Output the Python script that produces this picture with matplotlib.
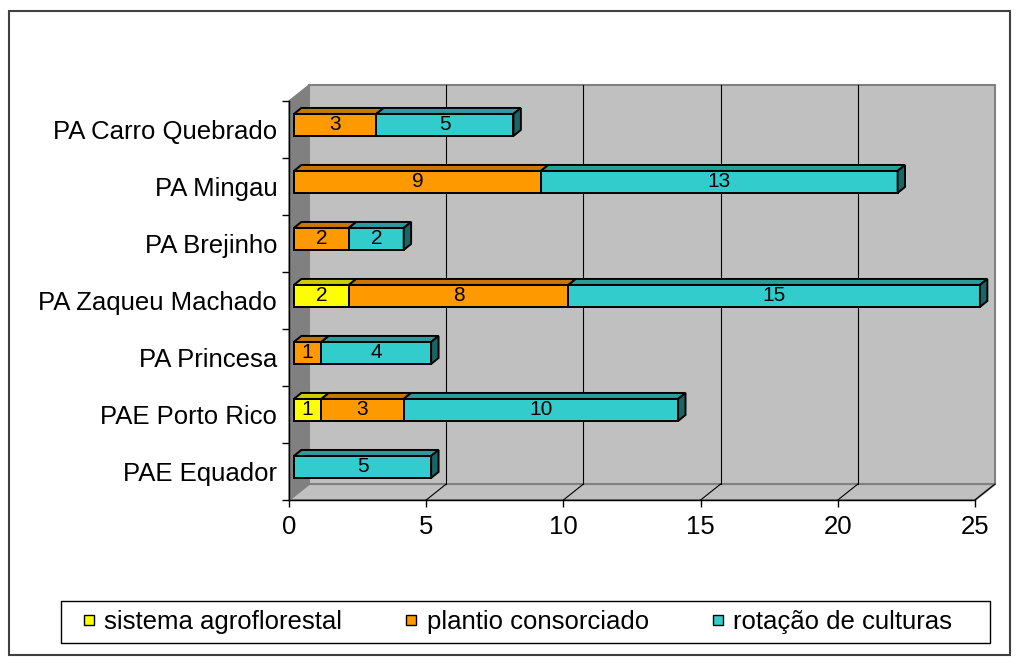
import numpy as np
import matplotlib.pyplot as plt
from matplotlib.patches import Polygon, Rectangle, Patch
from matplotlib.lines import Line2D

plt.rcParams['font.family'] = ['Liberation Sans', 'DejaVu Sans']

# assentamentos, de baixo para cima
assentamentos = ['PAE Equador', 'PAE Porto Rico', 'PA Princesa', 'PA Zaqueu Machado',
                 'PA Brejinho', 'PA Mingau', 'PA Carro Quebrado']
agroflorestal = [0, 1, 0, 2, 0, 0, 0]
consorciado = [0, 3, 1, 8, 2, 9, 3]
rotacao = [5, 10, 4, 15, 2, 13, 5]

series = ['sistema agroflorestal', 'plantio consorciado', 'rotação de culturas']
valores = [agroflorestal, consorciado, rotacao]
x_ticks = [0, 5, 10, 15, 20, 25]

cor_frente = ['#FFFF00', '#FF9900', '#33CCCC']
cor_topo = ['#CCCC00', '#C87800', '#2A9C9C']
cor_lado = ['#808000', '#8A5200', '#1A6666']

# profundidade das paredes e das barras (unidades de dados)
XMAX = 25
n = len(assentamentos)
pdx, pdy = 0.73, 0.28          # parede
bx0, by0 = 0.18, 0.08          # deslocamento da face frontal da barra
bdx, bdy = 0.27, 0.105         # profundidade da barra
bh = 0.386                     # altura da barra

fig = plt.figure(figsize=(10.21, 6.64), dpi=100)
ax = fig.add_axes([289 / 1021, 164 / 664, 686 / 1021, 399 / 664])
ax.set_xlim(0, XMAX)
ax.set_ylim(0, n)
ax.patch.set_visible(False)

# paredes: lateral, fundo e piso
ax.add_patch(Polygon([(0, 0), (0, n), (pdx, n + pdy), (pdx, pdy)], closed=True,
                     facecolor='#808080', edgecolor='#808080', lw=1, clip_on=False, zorder=0.5))
ax.add_patch(Polygon([(pdx, pdy), (pdx, n + pdy), (XMAX + pdx, n + pdy), (XMAX + pdx, pdy)],
                     closed=True, facecolor='#C0C0C0', edgecolor='#808080', lw=1.5,
                     clip_on=False, zorder=0.5))
ax.add_patch(Polygon([(0, 0), (XMAX, 0), (XMAX + pdx, pdy), (pdx, pdy)], closed=True,
                     facecolor='#C0C0C0', edgecolor='#808080', lw=1.5, clip_on=False, zorder=0.6))

# linhas de grade no fundo e no piso
for v in x_ticks[1:-1]:
    ax.add_line(Line2D([v + pdx, v + pdx], [pdy, n + pdy], color='black', lw=0.8,
                       clip_on=False, zorder=1))
for v in x_ticks[1:]:
    ax.add_line(Line2D([v, v + pdx], [0, pdy], color='black', lw=0.8,
                       clip_on=False, zorder=1))

# barras empilhadas em 3D
esquerda = np.zeros(n)
for k, vals in enumerate(valores):
    vals = np.array(vals, dtype=float)
    yc = np.arange(n) + 0.5 + by0
    mask = vals > 0
    barras = ax.barh(yc[mask], vals[mask], left=esquerda[mask] + bx0, height=bh,
                     color=cor_frente[k], edgecolor='black', lw=1.4, zorder=3)
    for b in barras:
        b.set_clip_on(False)
    for i in np.where(mask)[0]:
        x0 = esquerda[i] + bx0
        x1 = x0 + vals[i]
        yt = yc[i] + bh / 2
        ax.add_patch(Polygon([(x0, yt), (x1, yt), (x1 + bdx, yt + bdy), (x0 + bdx, yt + bdy)],
                             closed=True, facecolor=cor_topo[k], edgecolor='black',
                             lw=1.4, clip_on=False, zorder=3))
        ax.text((x0 + x1) / 2, yc[i], f'{int(vals[i])}', ha='center', va='center',
                fontsize=15, zorder=4)
    esquerda = esquerda + vals

# face lateral direita de cada barra (ultima serie visivel)
for i in range(n):
    ultima = max(k for k in range(len(valores)) if valores[k][i] > 0)
    x1 = esquerda[i] + bx0
    yc = i + 0.5 + by0
    yb, yt = yc - bh / 2, yc + bh / 2
    ax.add_patch(Polygon([(x1, yb), (x1, yt), (x1 + bdx, yt + bdy), (x1 + bdx, yb + bdy)],
                         closed=True, facecolor=cor_lado[ultima], edgecolor='black',
                         lw=1.4, clip_on=False, zorder=3))

# eixos
for s in ['top', 'right']:
    ax.spines[s].set_visible(False)
for s in ['left', 'bottom']:
    ax.spines[s].set_color('black')
    ax.spines[s].set_linewidth(1)
    ax.spines[s].set_zorder(2)

ax.set_xticks(x_ticks)
ax.set_xticklabels([str(v) for v in x_ticks])
ax.tick_params(axis='x', length=5, width=1, direction='out', pad=6, labelsize=18.5)
ax.set_yticks(np.arange(n + 1))
ax.set_yticklabels([])
ax.set_yticks(np.arange(n) + 0.5, minor=True)
ax.set_yticklabels(assentamentos, minor=True)
ax.tick_params(axis='y', which='major', length=5, width=1, direction='out')
ax.tick_params(axis='y', which='minor', length=0, pad=8.5, labelsize=18.5)

# legenda (moldura desenhada a parte)
handles = [Patch(facecolor=c, edgecolor='black', lw=1) for c in cor_frente]
fig.legend(handles, series, loc='center', ncol=3, mode='expand',
           bbox_to_anchor=(76 / 1021, 21 / 664, 884 / 1021, 42 / 664),
           fontsize=18.5, frameon=False, borderaxespad=0, borderpad=0.3,
           handlelength=0.4, handleheight=0.22, handletextpad=0.4, columnspacing=1.0)
fig.patches.append(Rectangle((61 / 1021, 21 / 664), 929 / 1021, 42 / 664,
                             transform=fig.transFigure, fill=False,
                             edgecolor='black', lw=1))

# moldura da figura
fig.patches.append(Rectangle((9 / 1021, 9 / 664), 1001 / 1021, 644 / 664,
                             transform=fig.transFigure, fill=False,
                             edgecolor='#404040', lw=1.5))

fig.savefig('out.png', dpi=100)
